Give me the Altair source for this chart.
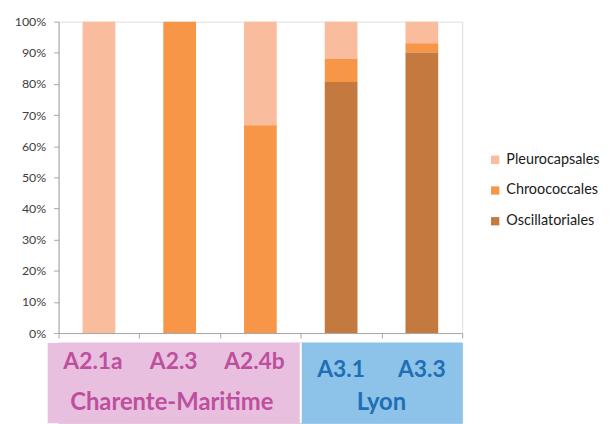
import altair as alt
import pandas as pd

samples = ["A2.1a", "A2.3", "A2.4b", "A3.1", "A3.3"]
groups = ["Charente-Maritime", "Charente-Maritime", "Charente-Maritime", "Lyon", "Lyon"]
orders = ["Pleurocapsales", "Chroococcales", "Oscillatoriales"]
oscillatoriales = [0.0, 0.0, 0.0, 0.806, 0.901]
chroococcales = [0.0, 1.0, 0.667, 0.074, 0.030]
pleurocapsales = [1.0, 0.0, 0.333, 0.120, 0.069]
order_colors = ["#F9BC9D", "#F79646", "#C47A3E"]
group_names = ["Charente-Maritime", "Lyon"]
group_fill = ["#E8BFDE", "#8EC3E9"]
group_text = ["#BE4F9E", "#1E6FB6"]

rows = []
for i, s in enumerate(samples):
    for o, vals in zip(orders, [pleurocapsales, chroococcales, oscillatoriales]):
        rows.append({"sample": s, "group": groups[i], "order": o, "value": vals[i],
                     "rank": orders.index(o)})
df = pd.DataFrame(rows)
sdf = pd.DataFrame({"sample": samples, "group": groups})

FONT = "Lato"

xscale_top = alt.Scale(domain=samples, paddingInner=0, paddingOuter=0)
bars = alt.Chart(df).mark_bar(size=33).encode(
    x=alt.X("sample:N", scale=xscale_top, sort=samples,
            axis=alt.Axis(title=None, labels=False, tickBand="extent", tickSize=5,
                          domainColor="#A6A6A6", tickColor="#A6A6A6")),
    y=alt.Y("value:Q", stack="zero", scale=alt.Scale(domain=[0, 1], nice=False),
            axis=alt.Axis(title=None, format=".0%", values=[i / 10 for i in range(11)],
                          grid=False, tickSize=5, domainColor="#A6A6A6", tickColor="#A6A6A6",
                          labelColor="#404040", labelFontSize=12.5, labelFont=FONT, labelPadding=8)),
    color=alt.Color("order:N", scale=alt.Scale(domain=orders, range=order_colors),
                    legend=alt.Legend(title=None, orient="none", legendX=433, legendY=132,
                                      symbolType="square", symbolSize=70, symbolStrokeWidth=0,
                                      labelFontSize=14.5, labelFont=FONT, labelColor="#202020",
                                      rowPadding=16, labelOffset=4)),
    order=alt.Order("rank:Q", sort="descending"),
).properties(width=407, height=314)

xscale_bot = alt.Scale(domain=samples, paddingInner=0, paddingOuter=0)
xb = alt.X("sample:N", scale=xscale_bot, sort=samples, axis=None)
fill_scale = alt.Scale(domain=group_names, range=group_fill)
boxes = alt.Chart(sdf).mark_rect(strokeWidth=1).encode(
    x=xb,
    y=alt.value(0), y2=alt.value(81),
    color=alt.Color("group:N", scale=fill_scale, legend=None),
    stroke=alt.Stroke("group:N", scale=fill_scale, legend=None),
)
box_ext = alt.Chart(sdf).transform_filter(alt.datum.sample == samples[0]).mark_rect(
    xOffset=-11, color=group_fill[0]).encode(
    x=xb, y=alt.value(0), y2=alt.value(81))
gap = alt.Chart(sdf).transform_filter(alt.datum.sample == samples[3]).mark_rule(
    color="white", strokeWidth=2).encode(
    x=alt.X("sample:N", scale=xscale_bot, sort=samples, axis=None, bandPosition=0),
    y=alt.value(0), y2=alt.value(81))
FS = 23
lab_pink = alt.Chart(sdf).transform_filter(alt.datum.group == group_names[0]).mark_text(
    font=FONT, fontWeight="bold", fontSize=FS, baseline="middle", dx=-6, color=group_text[0]).encode(
    x=xb, y=alt.value(19), text="sample:N")
lab_blue = alt.Chart(sdf).transform_filter(alt.datum.group == group_names[1]).mark_text(
    font=FONT, fontWeight="bold", fontSize=FS, baseline="middle", color=group_text[1]).encode(
    x=xb, y=alt.value(27), text="sample:N")
g1 = alt.Chart(sdf).transform_filter(alt.datum.sample == samples[1]).mark_text(
    font=FONT, fontWeight="bold", fontSize=24, baseline="middle", dx=-8, color=group_text[0]).encode(
    x=xb, y=alt.value(61), text="group:N")
g2 = alt.Chart(sdf).transform_filter(alt.datum.sample == samples[3]).mark_text(
    font=FONT, fontWeight="bold", fontSize=24, baseline="middle", color=group_text[1]).encode(
    x=alt.X("sample:N", scale=xscale_bot, sort=samples, axis=None, bandPosition=1),
    y=alt.value(61), text="group:N")
bottom = alt.layer(boxes, box_ext, gap, lab_pink, lab_blue, g1, g2).properties(width=407, height=81)

chart = alt.vconcat(bars, bottom, spacing=1).resolve_scale(
    color="independent", x="independent").configure_view(
    strokeWidth=0).configure(background="white")

chart.save("out.html", embed_options={"renderer": "svg", "actions": False})
